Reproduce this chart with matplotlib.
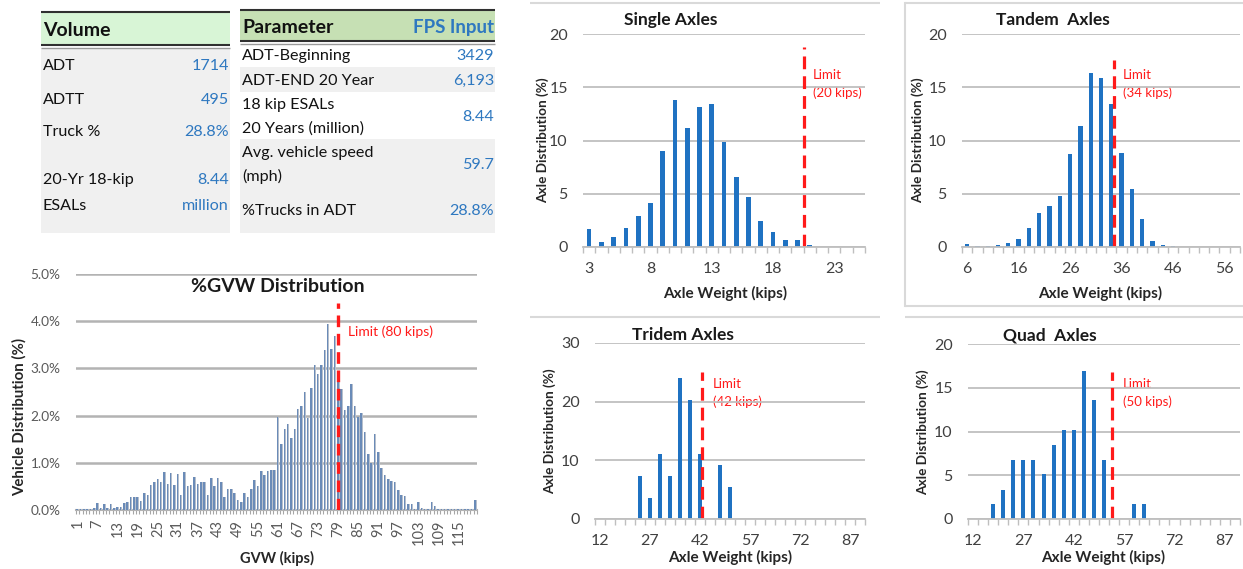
import matplotlib
matplotlib.use("Agg")
import matplotlib.pyplot as plt
from matplotlib.patches import Rectangle
import numpy as np

plt.rcParams['font.family'] = ['Lato', 'DejaVu Sans']

W, H = 1243, 569

# ---- table data ----
volume_header = "Volume"
volume_labels = ["ADT", "ADTT", "Truck %", "20-Yr 18-kip\nESALs"]
volume_values = ["1714", "495", "28.8%", "8.44\nmillion"]

param_header = ["Parameter", "FPS Input"]
param_labels = ["ADT-Beginning", "ADT-END 20 Year", "18 kip ESALs\n20 Years (million)",
                "Avg. vehicle speed\n(mph)", "%Trucks in ADT"]
param_values = ["3429", "6,193", "8.44", "59.7", "28.8%"]

# ---- axle load distributions (%) ----
single_kips = [3, 4, 5, 6, 7, 8, 9, 10, 11, 12, 13, 14, 15, 16, 17, 18, 19, 20, 21, 22, 23, 24, 25]
single_pct = [1.7, 0.5, 0.9, 1.8, 2.9, 4.1, 9.0, 13.8, 11.2, 13.1, 13.4, 9.9, 6.6, 4.7,
              2.4, 1.4, 0.7, 0.7, 0.2, 0, 0, 0, 0]

tandem_kips = [6, 8, 10, 12, 14, 16, 18, 20, 22, 24, 26, 28, 30, 32, 34, 36, 38, 40,
               42, 44, 46, 48, 50, 52, 54, 56, 58]
tandem_pct = [0.3, 0.1, 0.1, 0.15, 0.35, 0.75, 1.8, 3.2, 3.85, 4.8, 8.7, 11.4, 16.3, 15.9,
              13.4, 8.8, 5.4, 2.65, 0.6, 0.2, 0.1, 0, 0, 0, 0, 0, 0]

tridem_kips = [12, 15, 18, 21, 24, 27, 30, 33, 36, 39, 42, 45, 48, 51, 54, 57, 60, 63,
               66, 69, 72, 75, 78, 81, 84, 87, 90]
tridem_pct = [0, 0, 0, 0, 7.4, 3.6, 11.1, 7.4, 24.0, 20.3, 11.1, 0, 9.2, 5.5,
              0, 0, 0, 0, 0, 0, 0, 0, 0, 0, 0, 0, 0]

quad_kips = [12, 15, 18, 21, 24, 27, 30, 33, 36, 39, 42, 45, 48, 51, 54, 57, 60, 63,
             66, 69, 72, 75, 78, 81, 84, 87, 90]
quad_pct = [0, 0, 1.7, 3.3, 6.8, 6.8, 6.8, 5.1, 8.5, 10.2, 10.2, 16.9, 13.6, 6.8,
            0, 0, 1.7, 1.7, 0, 0, 0, 0, 0, 0, 0, 0, 0]

# ---- GVW distribution (%), 1..120 kips ----
gvw_kips = list(range(1, 121))
gvw_pct = [0.02, 0.02, 0.03, 0.02, 0.02, 0.05, 0.15, 0.05, 0.12, 0.05,
           0.12, 0.05, 0.07, 0.07, 0.15, 0.18, 0.27, 0.27, 0.27, 0.20,
           0.37, 0.32, 0.52, 0.60, 0.65, 0.60, 0.80, 0.55, 0.78, 0.52,
           0.77, 0.32, 0.80, 0.50, 0.52, 0.70, 0.55, 0.60, 0.60, 0.32,
           0.67, 0.50, 0.67, 0.60, 0.27, 0.45, 0.45, 0.37, 0.22, 0.18,
           0.37, 0.27, 0.45, 0.63, 0.50, 0.82, 0.75, 0.82, 0.85, 0.85,
           1.97, 1.40, 1.72, 1.82, 1.52, 1.72, 2.15, 2.20, 2.50, 1.95,
           2.58, 3.08, 2.88, 3.08, 3.38, 3.95, 3.42, 3.68, 2.75, 2.57,
           2.12, 2.20, 2.68, 2.20, 1.97, 2.05, 1.65, 1.18, 1.00, 1.60,
           1.23, 0.88, 0.75, 0.65, 0.62, 0.60, 0.42, 0.32, 0.30, 0.12,
           0.12, 0.03, 0.18, 0.05, 0.03, 0.02, 0.18, 0.08, 0.03, 0.02,
           0.02, 0.03, 0.03, 0.03, 0.02, 0.03, 0.02, 0.02, 0.02, 0.22]

BLUE = "#1f72c2"
VAL_BLUE = "#2e78c0"
RED = "#ff1a1a"
GRID = "#bfbfbf"
TXT = "#404040"


def px_box(x0, y0, x1, y1):
    return [x0 / W, 1 - y1 / H, (x1 - x0) / W, (y1 - y0) / H]


fig = plt.figure(figsize=(W / 100, H / 100), dpi=100)
bg = fig.add_axes([0, 0, 1, 1])
bg.set_xlim(0, W)
bg.set_ylim(H, 0)
bg.axis("off")


def hline(x0, x1, y, color, lw):
    bg.plot([x0, x1], [y, y], color=color, lw=lw, solid_capstyle="butt")


# ---- table 1 ----
bg.add_patch(Rectangle((41, 12), 189, 33, color="#d8f5d6", lw=0))
bg.add_patch(Rectangle((41, 48), 189, 185, color="#f0f0f0", lw=0))
hline(41, 230, 12, "#303030", 1.5)
hline(41, 230, 45, "#303030", 1.5)
hline(41, 230, 47.5, "#9a9a9a", 1.0)
bg.text(43, 30, volume_header, fontsize=14, fontweight="bold", va="center", ha="left", color="#111111")
vol_y = [66, 100, 132, 180]
for lab, val, y in zip(volume_labels, volume_values, vol_y):
    for i, (l, v) in enumerate(zip(lab.split("\n"), val.split("\n"))):
        bg.text(43, y + i * 26, l, fontsize=11.6, va="center", ha="left", color="#111111")
        bg.text(229, y + i * 26, v, fontsize=11.6, va="center", ha="right", color=VAL_BLUE)

# ---- table 2 ----
bg.add_patch(Rectangle((240, 10), 255, 32, color="#c6e0b4", lw=0))
bg.add_patch(Rectangle((240, 67), 255, 25, color="#f0f0f0", lw=0))
bg.add_patch(Rectangle((240, 139), 255, 94, color="#f0f0f0", lw=0))
hline(240, 495, 10, "#303030", 1.5)
hline(240, 495, 41, "#303030", 1.5)
hline(240, 495, 43.5, "#9a9a9a", 1.0)
bg.text(242, 27, param_header[0], fontsize=14, fontweight="bold", va="center", ha="left", color="#111111")
bg.text(494, 27, param_header[1], fontsize=13.5, fontweight="bold", va="center", ha="right", color=VAL_BLUE)
par_y = [56, 81, 105, 153, 211]
par_vy = [56, 81, 117, 165, 211]
for lab, val, y, vy in zip(param_labels, param_values, par_y, par_vy):
    for i, l in enumerate(lab.split("\n")):
        bg.text(242, y + i * 23.5, l, fontsize=11.6, va="center", ha="left", color="#111111")
    bg.text(494, vy, val, fontsize=11.6, va="center", ha="right", color=VAL_BLUE)

# ---- panel frames ----
FR = "#d9d9d9"
hline(530, 880, 3, FR, 1.5)
hline(905, 1243, 3, FR, 1.5)
hline(905, 1243, 306, FR, 1.5)
bg.plot([905, 905], [3, 306], color=FR, lw=1.5)
hline(530, 880, 317, FR, 1.5)
hline(905, 1243, 317, FR, 1.5)


def axle_chart(box, cats, vals, ymax, ystep, limit_idx, limit_top, bar_w):
    ax = fig.add_axes(px_box(*box))
    ax.set_facecolor("none")
    n = len(cats)
    x = np.arange(n)
    ax.bar(x, vals, width=bar_w, color=BLUE, zorder=3)
    ax.plot([limit_idx, limit_idx], [0, limit_top], color=RED, lw=2.3,
            ls=(0, (4, 2.2)), zorder=4)
    ax.set_xlim(-0.5, n - 0.5)
    ax.set_ylim(0, ymax)
    ax.set_yticks(np.arange(0, ymax + 1, ystep))
    ax.set_xticks(x[::5])
    ax.set_xticklabels([str(c) for c in cats[::5]])
    ax.set_xticks(np.arange(-0.5, n, 1), minor=True)
    ax.tick_params(axis="x", which="major", length=0, pad=11, labelsize=11.5, labelcolor=TXT)
    ax.tick_params(axis="x", which="minor", length=4, color=GRID, width=1)
    ax.tick_params(axis="y", length=0, pad=11, labelsize=11.5, labelcolor=TXT)
    ax.grid(axis="y", color=GRID, lw=1.3, zorder=0)
    for s in ["top", "right", "left"]:
        ax.spines[s].set_visible(False)
    ax.spines["bottom"].set_color(GRID)
    ax.spines["bottom"].set_linewidth(1.3)
    ax.spines["bottom"].set_zorder(5)
    return ax


axle_chart((583, 34, 865, 247), single_kips, single_pct, 20, 5, 17.5, 18.8, 0.38)
axle_chart((962, 34, 1240, 247), tandem_kips, tandem_pct, 20, 5, 14.25, 17.6, 0.42)
axle_chart((595, 343, 865, 519), tridem_kips, tridem_pct, 30, 10, 10.2, 25.0, 0.4)
axle_chart((968, 344, 1240, 519), quad_kips, quad_pct, 20, 5, 13.8, 16.8, 0.4)

# titles / labels of axle charts
for tx, ty, t in [(671, 20, "Single Axles"), (1053, 20, "Tandem  Axles"),
                  (683, 335, "Tridem Axles"), (1050, 335, "Quad  Axles")]:
    bg.text(tx, ty, t, fontsize=12.5, fontweight="bold", ha="center", va="center", color="#1a1a1a")
for lx, ly in [(543, 140), (918, 140), (550, 431), (923, 432)]:
    bg.text(lx, ly, "Axle Distribution (%)", rotation=90, ha="center", va="center",
            fontsize=9.8, fontweight="bold", color="#262626")
for lx, ly in [(725, 293), (1100, 293), (730, 557), (1103, 557)]:
    bg.text(lx, ly, "Axle Weight (kips)", ha="center", va="center",
            fontsize=11, fontweight="bold", color="#262626")
for lx, ly, t in [(813, 68, "Limit\n(20 kips)"), (1123, 68, "Limit\n(34 kips)"),
                  (713, 377, "Limit\n(42 kips)"), (1123, 377, "Limit\n(50 kips)")]:
    for i, l in enumerate(t.split("\n")):
        bg.text(lx, ly + 7 + i * 18, l, fontsize=9.5, color=RED, ha="left", va="center")

# ---- GVW chart ----
gx = fig.add_axes(px_box(76, 274, 477, 510))
gx.set_facecolor("none")
xg = np.arange(len(gvw_kips))
gx.bar(xg - 0.17, gvw_pct, width=0.46, color="#6a8bb8", zorder=3, lw=0)
gx.bar(xg + 0.21, gvw_pct, width=0.3, color="#b6bfcc", zorder=3, lw=0)
gx.plot([78, 78], [0, 4.39], color=RED, lw=2.4, ls=(0, (3.5, 2)), zorder=4)
gx.set_xlim(-0.5, len(gvw_kips) - 0.5)
gx.set_ylim(0, 5)
gx.set_yticks(np.arange(0, 5.1, 1.0))
gx.set_yticklabels(["%.1f%%" % v for v in np.arange(0, 5.1, 1.0)])
gx.set_xticks(xg[::6])
gx.set_xticklabels([str(k) for k in gvw_kips[::6]], rotation=90)
gx.set_xticks(np.arange(-0.5, len(gvw_kips), 1), minor=True)
gx.tick_params(axis="x", which="major", length=0, pad=7, labelsize=10.5, labelcolor="#595959")
gx.tick_params(axis="x", which="minor", length=3, color="#a6a6a6", width=0.8)
gx.tick_params(axis="y", length=0, pad=11, labelsize=9.8, labelcolor="#595959")
gx.grid(axis="y", color="#b3b3b3", lw=1.8, zorder=0)
for s in ["top", "right", "left"]:
    gx.spines[s].set_visible(False)
gx.spines["bottom"].set_color("#b3b3b3")
gx.spines["bottom"].set_linewidth(1.5)
bg.text(278, 286, "%GVW Distribution", fontsize=14, fontweight="bold", ha="center", va="center", color="#1a1a1a")
bg.text(348, 332, "Limit (80 kips)", fontsize=10, color=RED, ha="left", va="center")
bg.text(19, 417, "Vehicle Distribution (%)", rotation=90, ha="center", va="center",
        fontsize=10.8, fontweight="bold", color="#262626")
bg.text(277, 558, "GVW (kips)", ha="center", va="center", fontsize=10.5, fontweight="bold", color="#262626")

fig.savefig("out.png", dpi=100)
